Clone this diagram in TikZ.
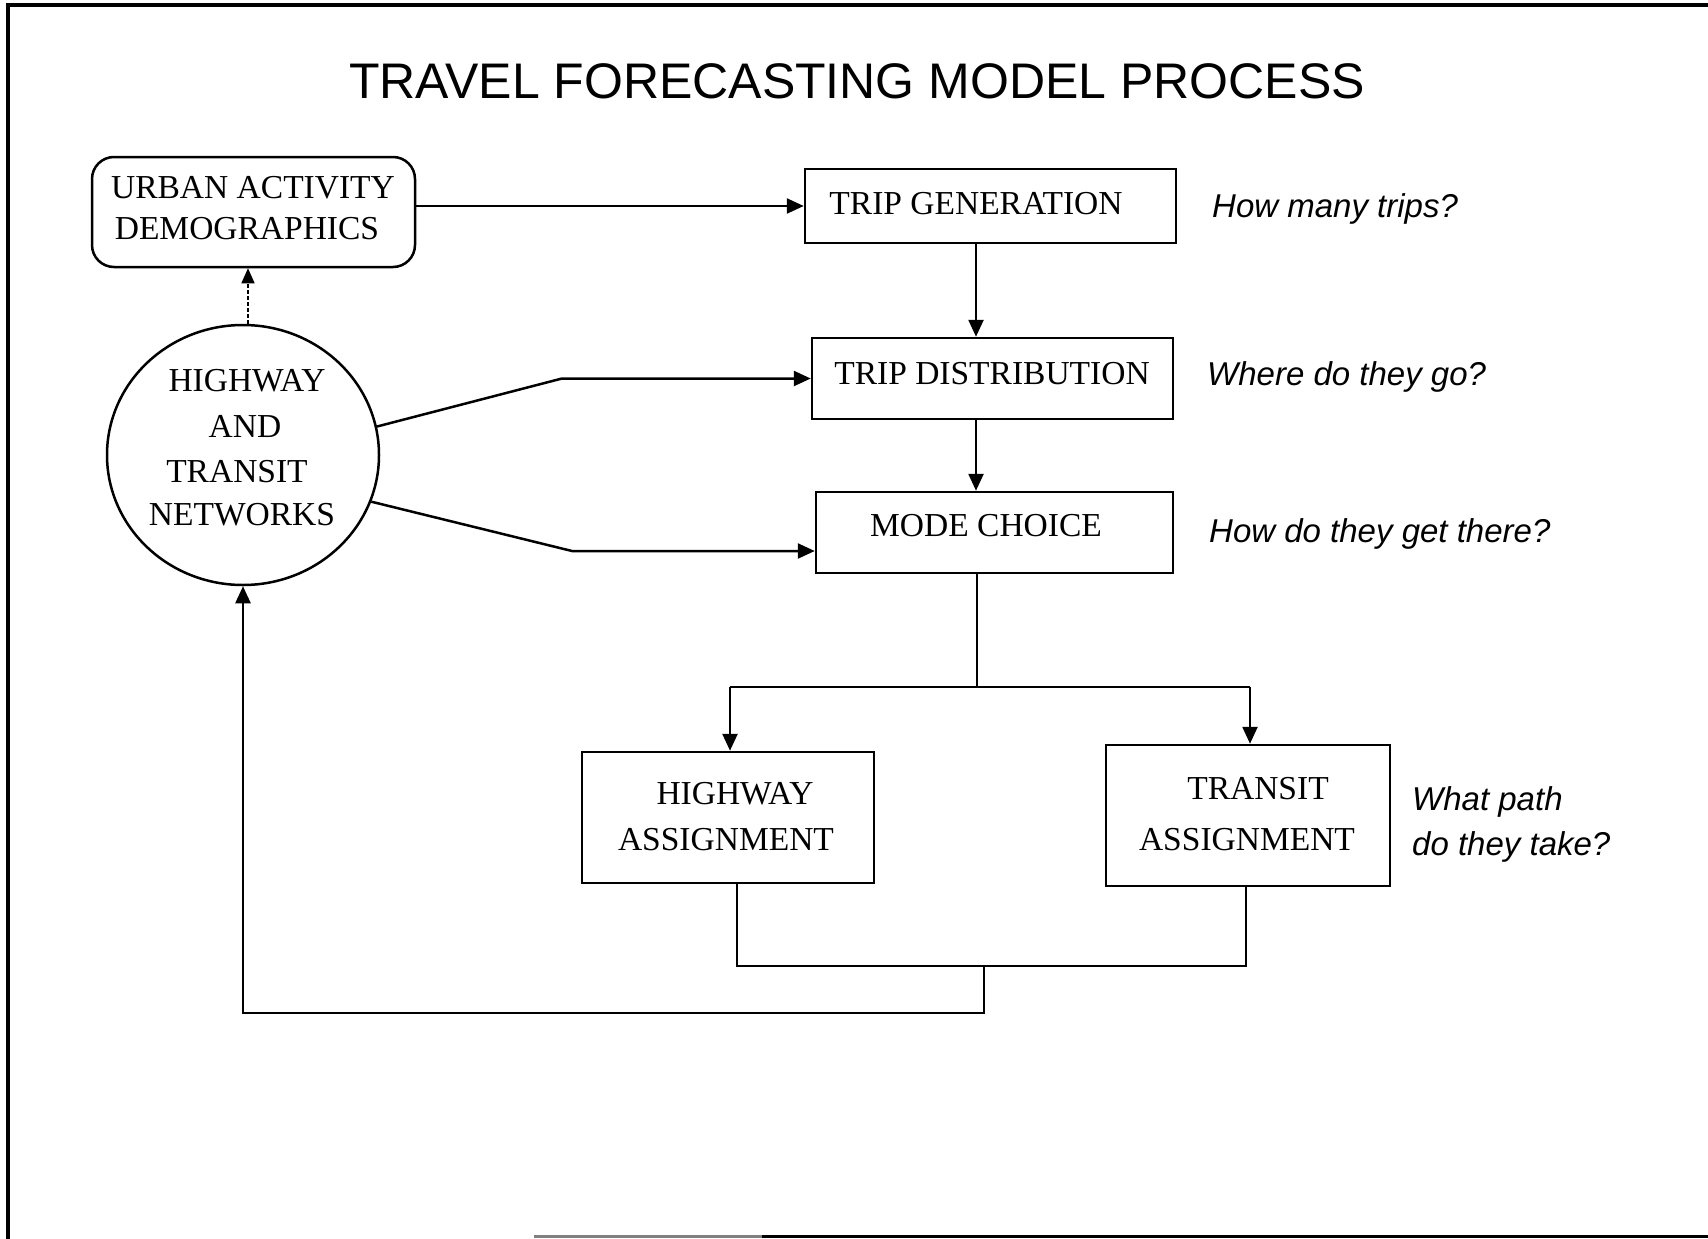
\documentclass[tikz,border=0pt]{standalone}
\usepackage{fontspec}
\setmainfont{Liberation Serif}
\newfontfamily\labelfont{Liberation Sans}
\usetikzlibrary{arrows.meta,shapes.geometric,calc}

\begin{document}
\begin{tikzpicture}[x=1pt,y=-1pt,
  box/.style={draw,line width=2.5pt,inner sep=0pt},
  boxtext/.style={font=\fontsize{33.5}{40}\selectfont,anchor=base,inner sep=0pt},
  question/.style={font=\labelfont\itshape\fontsize{33}{40}\selectfont,anchor=base west,inner sep=0pt},
  link/.style={line width=2.5pt},
  arrowlink/.style={link,-{Triangle[length=17pt,width=15pt]}},
]
\useasboundingbox (0,0) rectangle (1708,1239);

% page frame
\draw[line width=4pt] (7.5,1239) -- (7.5,5.5) -- (1708,5.5);
\draw[line width=3pt,gray] (534,1236.5) -- (762,1236.5);
\draw[line width=3.5pt] (762,1236.5) -- (1708,1236.5);

% title
\node[font=\labelfont\fontsize{50}{60}\selectfont,anchor=base,inner sep=0pt] (title) at (857,98) {TRAVEL FORECASTING MODEL PROCESS};

% boxes
\node[box,rounded corners=22pt,minimum width=323pt,minimum height=110pt] (urban) at (253.5,212) {};
\node[box,minimum width=371pt,minimum height=74pt] (gen) at (990.5,206) {};
\node[box,minimum width=361pt,minimum height=81pt] (dist) at (992.5,378.5) {};
\node[box,minimum width=357pt,minimum height=81pt] (mode) at (994.5,532.5) {};
\node[box,minimum width=292pt,minimum height=131pt] (hwy) at (728,817.5) {};
\node[box,minimum width=284pt,minimum height=141pt] (trn) at (1248,815.5) {};
\node[box,ellipse,minimum width=272pt,minimum height=260pt] (net) at (243,455) {};

% box texts
\node[boxtext] (urbanA) at (253,198) {URBAN ACTIVITY};
\node[boxtext] (urbanB) at (247,239) {DEMOGRAPHICS};
\node[boxtext] (netA) at (247,391) {HIGHWAY};
\node[boxtext] (netB) at (245,437) {AND};
\node[boxtext] (netC) at (237,482) {TRANSIT};
\node[boxtext] (netD) at (242,525) {NETWORKS};
\node[boxtext] (genT) at (976,214) {TRIP GENERATION};
\node[boxtext] (distT) at (992,384) {TRIP DISTRIBUTION};
\node[boxtext] (modeT) at (986,536) {MODE CHOICE};
\node[boxtext] (hwyA) at (735,804) {HIGHWAY};
\node[boxtext] (hwyB) at (726,850) {ASSIGNMENT};
\node[boxtext] (trnA) at (1258,799) {TRANSIT};
\node[boxtext] (trnB) at (1247,850) {ASSIGNMENT};

% questions
\node[question] (q1) at (1212,217) {How many trips?};
\node[question] (q2) at (1207,385) {Where do they go?};
\node[question] (q3) at (1209,542) {How do they get there?};
\node[question] (q4a) at (1412,810) {What path};
\node[question] (q4b) at (1412,855) {do they take?};

% routing points
\coordinate (spine) at (976,0);
\coordinate (split) at (977,687);
\coordinate (hwyin) at (730,687);
\coordinate (trnin) at (1250,687);
\coordinate (hwyout) at (737,966);
\coordinate (trnout) at (1246,966);
\coordinate (merge) at (984,966);
\coordinate (back) at (243,1013);
\coordinate (bendup) at (562,378.5);
\coordinate (benddown) at (572,551);
\coordinate (dashx) at (248,0);

% connectors
\draw[arrowlink] (urban.east |- gen.west) -- (gen.west);
\draw[link,line width=1.5pt,dash pattern=on 4pt off 2pt,-{Triangle[length=15pt,width=13pt]}]
  (net.north -| dashx) -- (urban.south -| dashx);
\draw[arrowlink] (gen.south -| spine) -- (dist.north -| spine);
\draw[arrowlink] (dist.south -| spine) -- (mode.north -| spine);
\draw[arrowlink] (net.12) -- (bendup) -- (dist.west);
\draw[arrowlink] (net.-20) -- (benddown) -- ([yshift=-18.5pt]mode.west);
\draw[link] (mode.south -| split) -- (split);
\draw[link] (hwyin) -- (trnin);
\draw[arrowlink] (hwyin) -- (hwyin |- hwy.north);
\draw[arrowlink] (trnin) -- (trnin |- trn.north);
\draw[link] (hwy.south -| hwyout) -- (hwyout) -- (trnout) -- (trn.south -| trnout);
\draw[arrowlink] (merge) |- (back) -- (net.south);
\end{tikzpicture}
\end{document}
